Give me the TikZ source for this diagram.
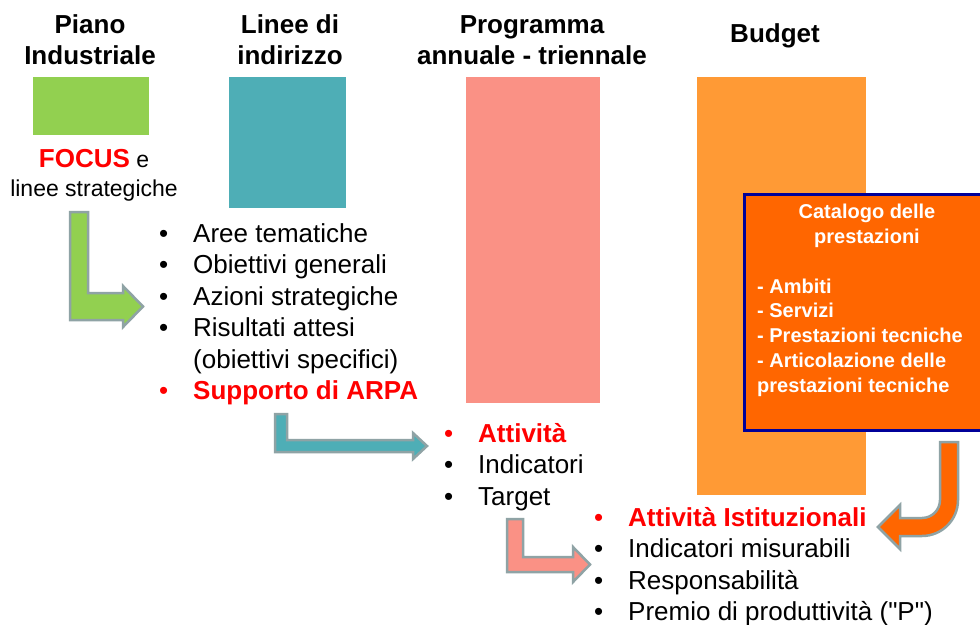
\documentclass[tikz,border=0pt]{standalone}
\usepackage{fontspec}
\setmainfont{Liberation Sans}
\usetikzlibrary{positioning}
\definecolor{pgreen}{HTML}{92D050}
\definecolor{pteal}{HTML}{4EAEB6}
\definecolor{psalmon}{HTML}{FA9185}
\definecolor{porange}{HTML}{FF9A35}
\definecolor{pcat}{HTML}{FF6600}
\definecolor{pnavy}{HTML}{000099}
\definecolor{agray}{HTML}{8FA3A5}
\newcommand{\blt}{\makebox[34pt][l]{\textbullet}}

\begin{document}
\begin{tikzpicture}[x=1pt,y=-1pt,
  hdr/.style={font=\fontsize{26}{31}\selectfont\bfseries,align=center,anchor=base,inner sep=0},
  bar/.style={anchor=north west,inner sep=0,outer sep=0},
  lst/.style={font=\fontsize{26}{31.5}\selectfont,align=left,anchor=base west,inner sep=0},
  cattxt/.style={font=\fontsize{20}{24.7}\selectfont\bfseries,text=white,inner sep=0},
  arw/.style={draw=agray,line width=2.5pt,line join=miter}]
\clip (0,0) rectangle (980,624);
\fill[white] (0,0) rectangle (980,624);
% column headers (base = last line)
\node[hdr] (hpi) at (90,64) {Piano\\Industriale};
\node[hdr] (hli) at (290,64) {Linee di\\indirizzo};
\node[hdr] (hpr) at (532,64) {Programma\\annuale - triennale};
\node[hdr] (hbu) at (775,42) {Budget};
% coloured bars
\node[bar,fill=pgreen,minimum width=116pt,minimum height=58pt] (bpi) at (33,77) {};
\node[bar,fill=pteal,minimum width=117pt,minimum height=131pt] (bli) at (229,77) {};
\node[bar,fill=psalmon,minimum width=134pt,minimum height=326pt] (bpr) at (466,77) {};
\node[bar,fill=porange,minimum width=169pt,minimum height=418pt] (bbu) at (697,77) {};
% catalogo box (runs off the right edge)
\node[bar,fill=pcat,draw=pnavy,line width=3pt,minimum width=260pt,minimum height=236pt] (cat) at (744,194) {};
\node[cattxt,align=center,anchor=base] (catt) at (867,243) {Catalogo delle\\prestazioni};
\node[cattxt,align=left,anchor=base west] (catl) at (757,392) {- Ambiti\\- Servizi\\- Prestazioni tecniche\\- Articolazione delle\\prestazioni tecniche};
% focus text
\node[align=center,anchor=base,inner sep=0,font=\fontsize{23}{29}\selectfont] (foc) at (94,196)
  {{\color{red}\fontsize{26}{29}\selectfont\bfseries FOCUS}\ e\\linee strategiche};
% bullet lists
\node[lst] (l1) at (159,399.5) {\blt Aree tematiche\\\blt Obiettivi generali\\\blt Azioni strategiche\\\blt Risultati attesi\\\hspace*{34pt}(obiettivi specifici)\\{\color{red}\blt\bfseries Supporto di ARPA}};
\node[lst] (l2) at (444,505) {{\color{red}\blt\bfseries Attività}\\\blt Indicatori\\\blt Target};
\node[lst] (l3) at (594,620.5) {{\color{red}\blt\bfseries Attività Istituzionali}\\\blt Indicatori misurabili\\\blt Responsabilità\\\blt Premio di produttività (\textquotedbl P\textquotedbl)};
% bent block arrows
\draw[arw,fill=pgreen] (70,212) -- (88,212) -- (88,293) -- (123,293) -- (123,286) -- (143,306.5) -- (123,327) -- (123,320) -- (70,320) -- cycle;
\draw[arw,fill=pteal] (275,414) -- (287,414) -- (287,440) -- (413,440) -- (413,433) -- (427,446) -- (413,459) -- (413,452) -- (275,452) -- cycle;
\draw[arw,fill=psalmon] (507,519) -- (523,519) -- (523,557) -- (573,557) -- (573,547) -- (590,564.5) -- (573,582) -- (573,572) -- (507,572) -- cycle;
\draw[arw,fill=pcat] (940,442) -- (958,442) -- (958,500) arc[start angle=0,end angle=90,radius=36] -- (900,536) -- (900,549) -- (878,527) -- (900,505) -- (900,518) -- (922,518) arc[start angle=90,end angle=0,radius=18] -- cycle;
\end{tikzpicture}
\end{document}
